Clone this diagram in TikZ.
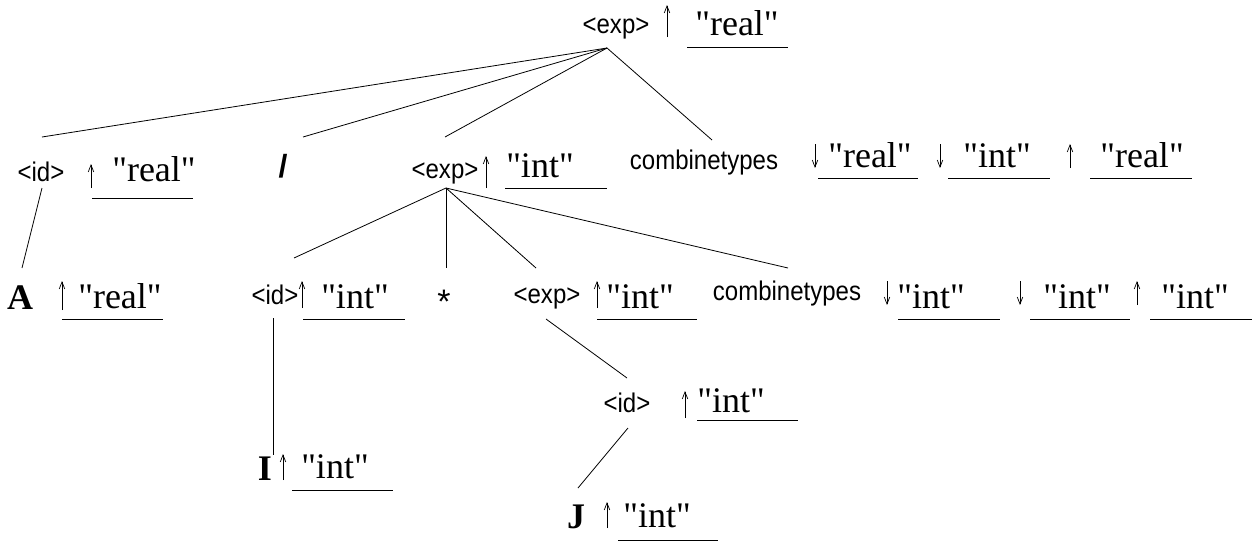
\documentclass[tikz,border=0pt]{standalone}
\usepackage{fontspec}
\setmainfont{Liberation Serif}[Ligatures=TeXOff]
\newfontfamily\sansf{Liberation Sans}[FakeStretch=0.89]
\newfontfamily\sansb{Liberation Sans}
\usetikzlibrary{arrows.meta}
\tikzset{
  val/.style={font=\fontsize{36}{40}\selectfont, anchor=base, inner sep=0pt},
  big/.style={font=\fontsize{36}{40}\selectfont\bfseries, anchor=base, inner sep=0pt},
  sym/.style={font=\fontsize{27}{30}\selectfont\sansf, anchor=base, inner sep=0pt},
  edge/.style={line width=0.8pt},
  uline/.style={line width=0.9pt},
  attr/.style={line width=0.7pt, -{Straight Barb[length=7pt,width=5.5pt,line width=0.7pt]}}
}
\newcommand{\slotline}[4]{\coordinate (#1a) at (#2,#4); \coordinate (#1b) at (#3,#4); \draw[uline] (#1a) -- (#1b);}
\newcommand{\attrarrow}[4]{\coordinate (#1a) at (#2,#3); \coordinate (#1b) at (#2,#4); \draw[attr] (#1a) -- (#1b);}
\begin{document}
\begin{tikzpicture}[x=1pt,y=-1pt]
\useasboundingbox (0,0) rectangle (1257,550);
% Row 1
\node[sym] (e1) at (616,33) {<exp>};
\attrarrow{a1}{667}{37}{5}
\node[val] (v1) at (737,35) {"real"};
\slotline{u1}{687}{788}{47}
% Row 2
\node[sym] (id2) at (41,181) {<id>};
\attrarrow{a2a}{91}{188}{164}
\node[val] (v2a) at (154,181) {"real"};
\slotline{u2a}{92}{193}{198}
\node[font=\fontsize{32}{36}\selectfont\sansb\bfseries, anchor=base, inner sep=0pt] (sl) at (283,177) {/};
\node[sym] (e2) at (445,178) {<exp>};
\attrarrow{a2b}{486}{188}{156}
\node[val] (v2b) at (540,177) {"int"};
\slotline{u2b}{505}{607}{188}
\node[sym] (ct2) at (704,169) {combinetypes};
\attrarrow{a2c}{815}{144}{168}
\node[val] (v2c) at (870,167) {"real"};
\slotline{u2c}{818}{918}{178}
\attrarrow{a2d}{940}{144}{168}
\node[val] (v2d) at (997,167) {"int"};
\slotline{u2d}{948}{1050}{178}
\attrarrow{a2e}{1070}{168}{144}
\node[val] (v2e) at (1142,167) {"real"};
\slotline{u2e}{1090}{1192}{178}
% Row 3
\node[big] (A) at (20,309) {A};
\attrarrow{a3a}{62}{310}{281}
\node[val] (v3a) at (120,308) {"real"};
\slotline{u3a}{62}{163}{319}
\node[sym] (id3) at (275,304) {<id>};
\attrarrow{a3b}{302}{308}{281}
\node[val] (v3b) at (355,308) {"int"};
\slotline{u3b}{303}{405}{319}
\node[font=\fontsize{34}{38}\selectfont\sansb, anchor=base, inner sep=0pt] (st) at (444,313) {*};
\node[sym] (e3) at (547,303) {<exp>};
\attrarrow{a3c}{597}{308}{281}
\node[val] (v3c) at (640,308) {"int"};
\slotline{u3c}{597}{697}{319}
\node[sym] (ct3) at (787,300) {combinetypes};
\attrarrow{a3d}{887}{281}{305}
\node[val] (v3d) at (931,308) {"int"};
\slotline{u3d}{898}{1000}{319}
\attrarrow{a3e}{1020}{281}{305}
\node[val] (v3e) at (1077,308) {"int"};
\slotline{u3e}{1030}{1130}{319}
\attrarrow{a3f}{1137}{305}{281}
\node[val] (v3f) at (1195,308) {"int"};
\slotline{u3f}{1150}{1252}{319}
% Row 4
\node[sym] (id4) at (627,412) {<id>};
\attrarrow{a4}{685}{418}{391}
\node[val] (v4) at (731,412) {"int"};
\slotline{u4}{697}{798}{420}
% Row 5
\node[big] (I) at (265,480) {I};
\attrarrow{a5a}{283}{480}{454}
\node[val] (v5a) at (335,478) {"int"};
\slotline{u5a}{292}{393}{490}
\node[big] (J) at (576,528) {J};
\attrarrow{a5b}{607}{528}{502}
\node[val] (v5b) at (657,527) {"int"};
\slotline{u5b}{618}{718}{540}
% connector end points
\coordinate (j1) at (607,48);
\coordinate (t-id2) at (42,137);
\coordinate (t-sl) at (303,137);
\coordinate (t-e2) at (445,137);
\coordinate (t-ct2) at (712,140);
\coordinate (b-id2) at (42,188);
\coordinate (t-A) at (22,268);
\coordinate (j2) at (446,188);
\coordinate (t-id3) at (294,258);
\coordinate (t-st) at (446,268);
\coordinate (t-e3) at (536,268);
\coordinate (t-ct3) at (788,268);
\coordinate (b-id3) at (273,318);
\coordinate (t-I) at (273,455);
\coordinate (b-e3) at (546,319);
\coordinate (t-id4) at (627,378);
\coordinate (b-id4) at (628,428);
\coordinate (t-J) at (578,488);
\draw[edge] (j1) -- (t-id2);
\draw[edge] (j1) -- (t-sl);
\draw[edge] (j1) -- (t-e2);
\draw[edge] (j1) -- (t-ct2);
\draw[edge] (b-id2) -- (t-A);
\draw[edge] (j2) -- (t-id3);
\draw[edge] (j2) -- (t-st);
\draw[edge] (j2) -- (t-e3);
\draw[edge] (j2) -- (t-ct3);
\draw[edge] (b-id3) -- (t-I);
\draw[edge] (b-e3) -- (t-id4);
\draw[edge] (b-id4) -- (t-J);
\end{tikzpicture}
\end{document}
